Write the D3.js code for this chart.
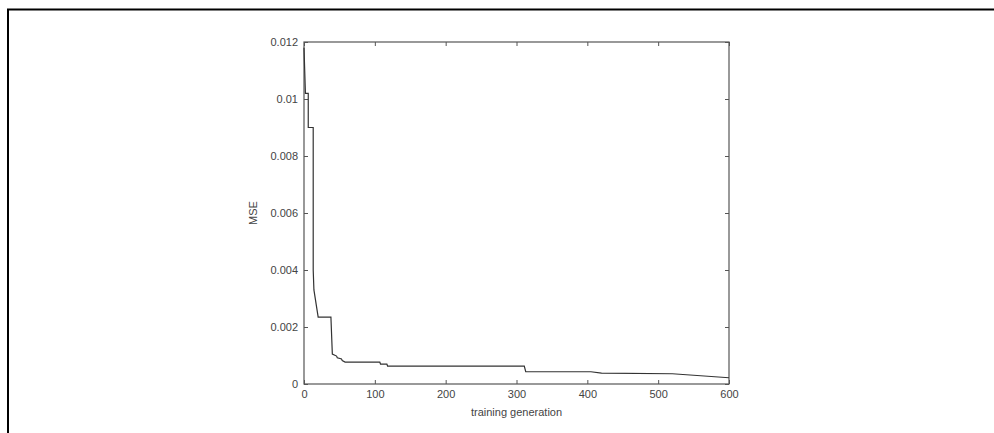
<!DOCTYPE html>
<html>
<head>
<meta charset="utf-8">
<script src="https://cdn.jsdelivr.net/npm/d3@7"></script>
<style>
  html, body { margin: 0; padding: 0; background: #fff; }
  svg { display: block; }
  .tick text { font-family: "Liberation Sans", Arial, sans-serif; font-size: 11px; fill: #444; }
  .axis-label { font-family: "Liberation Sans", Arial, sans-serif; font-size: 11px; fill: #444; }
</style>
</head>
<body>
<div id="viewportContainer"></div>
<script>
/* --- データ --- */
const generations = [0, 1, 2, 6, 6, 13, 13, 14, 20, 38, 40, 46, 47, 53, 54, 58, 107, 108, 117, 118, 311, 313, 405, 420, 520, 600];
const mseValues = [0.0118, 0.0110, 0.0102, 0.0102, 0.0090, 0.0090, 0.0040, 0.0033, 0.00235, 0.00235, 0.00105, 0.00098, 0.00092, 0.00088, 0.00082, 0.00077, 0.00077, 0.00070, 0.00070, 0.00063, 0.00063, 0.00043, 0.00043, 0.00038, 0.00036, 0.00022];
const xTicks = [0, 100, 200, 300, 400, 500, 600];
const yTicks = [0, 0.002, 0.004, 0.006, 0.008, 0.01, 0.012];

/* --- ビューポート --- */
const viewport = {width: 994, height: 433};
const plot = {left: 304, right: 729, top: 42, bottom: 384};

const svg = d3.select("#viewportContainer").append("svg")
    .attr("width", viewport.width)
    .attr("height", viewport.height);

// outer frame (top + left)
svg.append("path")
    .attr("d", "M8,433 L8,9.5 L994,9.5")
    .attr("fill", "none")
    .attr("stroke", "#000")
    .attr("stroke-width", 2);

/*--- スケール ---*/
const xScale = d3.scaleLinear().domain([0, 600]).range([plot.left, plot.right]);
const yScale = d3.scaleLinear().domain([0, 0.012]).range([plot.bottom, plot.top]);

const fmt = d => d === 0 ? "0" : String(+d.toFixed(3));

/*--- 軸 (matlab style, ticks inward) ---*/
const axisStyle = g => {
    g.select(".domain").remove();
    g.selectAll(".tick line").attr("stroke", "#555");
};

svg.append("g")
    .attr("transform", "translate(0," + plot.bottom + ")")
    .call(d3.axisBottom(xScale).tickValues(xTicks).tickSize(-4).tickPadding(6))
    .call(axisStyle);
svg.append("g")
    .attr("transform", "translate(0," + plot.top + ")")
    .call(d3.axisTop(xScale).tickValues(xTicks).tickSize(-4).tickFormat(""))
    .call(axisStyle);
svg.append("g")
    .attr("transform", "translate(" + plot.left + ",0)")
    .call(d3.axisLeft(yScale).tickValues(yTicks).tickSize(-4).tickPadding(6).tickFormat(fmt))
    .call(axisStyle);
svg.append("g")
    .attr("transform", "translate(" + plot.right + ",0)")
    .call(d3.axisRight(yScale).tickValues(yTicks).tickSize(-4).tickFormat(""))
    .call(axisStyle);

// box
svg.append("rect")
    .attr("x", plot.left).attr("y", plot.top)
    .attr("width", plot.right - plot.left).attr("height", plot.bottom - plot.top)
    .attr("fill", "none").attr("stroke", "#555").attr("stroke-width", 1.2);

/*--- ライン ---*/
const line = d3.line()
    .x((d, i) => xScale(generations[i]))
    .y(d => yScale(d));

svg.append("path")
    .datum(mseValues)
    .attr("d", line)
    .attr("fill", "none")
    .attr("stroke", "#333")
    .attr("stroke-width", 1.2);

/*--- 軸ラベル ---*/
svg.append("text")
    .attr("class", "axis-label")
    .attr("text-anchor", "middle")
    .attr("x", (plot.left + plot.right) / 2)
    .attr("y", 416)
    .text("training generation");

svg.append("text")
    .attr("class", "axis-label")
    .attr("text-anchor", "middle")
    .attr("transform", "translate(257," + ((plot.top + plot.bottom) / 2) + ") rotate(-90)")
    .text("MSE");
</script>
</body>
</html>
